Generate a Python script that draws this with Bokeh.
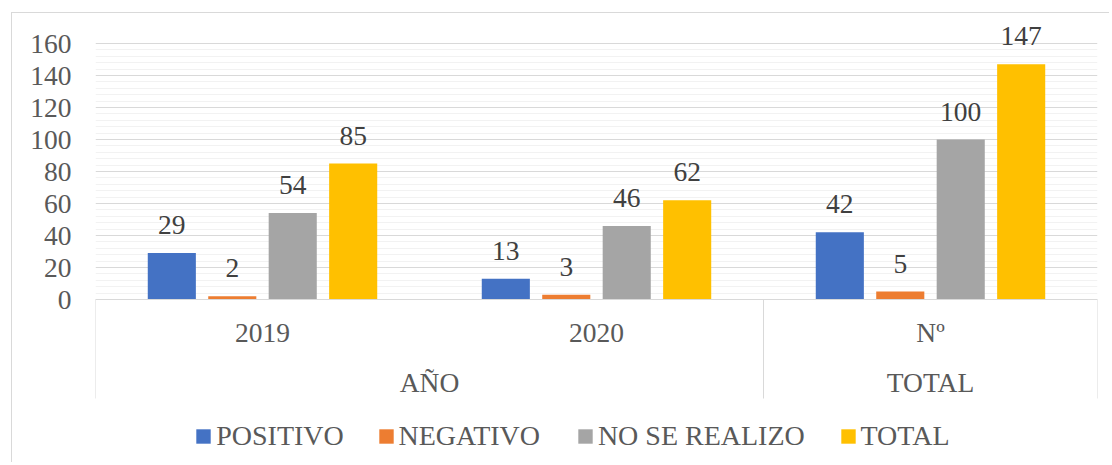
from bokeh.plotting import figure
from bokeh.models import FactorRange, ColumnDataSource, FixedTicker, Range1d, Legend
from bokeh.transform import dodge
from bokeh.core.properties import value
from bokeh.embed import file_html
from bokeh.resources import INLINE

# ---- data ----
groups = ["AÑO", "AÑO", "TOTAL"]
categories = ["2019", "2020", "Nº"]
series_names = ["POSITIVO", "NEGATIVO", "NO SE REALIZO", "TOTAL"]
positivo = [29, 13, 42]
negativo = [2, 3, 5]
no_se_realizo = [54, 46, 100]
total = [85, 62, 147]
y_ticks = [0, 20, 40, 60, 80, 100, 120, 140, 160]

FONT = "Liberation Serif"
FS = "27.5px"
colors = ["#4472C4", "#ED7D31", "#A5A5A5", "#FFC000"]

factors = list(zip(groups, categories))
x_range = FactorRange(*factors, factor_padding=0, group_padding=0, range_padding=0)

# layout (screen px)
PX_PER_UNIT = 1.6
ZERO_Y = 298          # pixel row of value 0
TOP160_Y = 42
FRAME_TOP = 13
FRAME_BOTTOM = 461
FRAME_LEFT = 94
BOX_BOTTOM = 397
y_top = 160 + (TOP160_Y - FRAME_TOP) / PX_PER_UNIT
y_bottom = -(FRAME_BOTTOM - ZERO_Y) / PX_PER_UNIT
box_bottom = -(BOX_BOTTOM - ZERO_Y) / PX_PER_UNIT

p = figure(x_range=x_range, y_range=Range1d(y_bottom, y_top),
           frame_width=1002, frame_height=FRAME_BOTTOM - FRAME_TOP,
           min_border_left=83, min_border_right=12, min_border_top=1, min_border_bottom=0,
           output_backend="svg", toolbar_location=None, x_axis_location=None,
           margin=(12, 0, 0, 11),
           styles={"border-left": "1px solid #d9d9d9", "border-top": "1px solid #d9d9d9"})
p.outline_line_color = None
p.background_fill_color = "white"
p.border_fill_color = "white"

# y axis
minor = [t for t in range(0, 161, 4) if t % 20 != 0]
p.yaxis.ticker = FixedTicker(ticks=y_ticks, minor_ticks=minor)
p.yaxis.axis_line_color = None
p.yaxis.major_tick_line_color = None
p.yaxis.minor_tick_line_color = None
p.yaxis.major_tick_out = 0
p.yaxis.major_tick_in = 0
p.yaxis.minor_tick_out = 0
p.yaxis.major_label_standoff = 24
p.yaxis.major_label_text_font = FONT
p.yaxis.major_label_text_font_size = FS
p.yaxis.major_label_text_color = "#595959"

p.xgrid.grid_line_color = None
p.ygrid.grid_line_color = "#d9d9d9"
p.ygrid.grid_line_width = 1
p.ygrid.minor_grid_line_color = "#f2f2f2"
p.ygrid.minor_grid_line_width = 1

src = ColumnDataSource(dict(
    x=factors,
    s0=positivo, s1=negativo, s2=no_se_realizo, s3=total,
    t0=[str(v) for v in positivo], t1=[str(v) for v in negativo],
    t2=[str(v) for v in no_se_realizo], t3=[str(v) for v in total],
))

STEP = 0.181
BAR_W = 0.144
renderers = []
for i, name in enumerate(series_names):
    off = (i - 1.5) * STEP
    r = p.vbar(x=dodge("x", off, range=x_range), top=f"s{i}", width=BAR_W, bottom=0,
               source=src, fill_color=colors[i], line_color=None)
    renderers.append(r)
    p.text(x=dodge("x", off, range=x_range), y=f"s{i}", text=f"t{i}", source=src,
           text_align="center", text_baseline="alphabetic", y_offset=-28,
           text_font=value(FONT), text_font_size=FS, text_color="#404040")

# category axis box (separators)
sep_x = [(groups[0], categories[0], -0.5), (groups[2], categories[2], -0.5), (groups[2], categories[2], 0.5)]
p.segment(x0=sep_x, x1=sep_x, y0=[0] * 3, y1=[box_bottom] * 3, line_color="#d9d9d9", line_width=1)
p.segment(x0=[sep_x[0]], x1=[sep_x[2]], y0=[0], y1=[0], line_color="#d9d9d9", line_width=1)

# category labels
p.text(x=factors, y=[-(331 - ZERO_Y) / PX_PER_UNIT] * 3, text=categories,
       text_align="center", text_baseline="alphabetic",
       text_font=value(FONT), text_font_size=FS, text_color="#595959")
top_groups = ["AÑO", "TOTAL"]
p.text(x=top_groups, y=[-(381 - ZERO_Y) / PX_PER_UNIT] * 2, text=top_groups,
       text_align="center", text_baseline="alphabetic",
       text_font=value(FONT), text_font_size=FS, text_color="#595959")

# legend: one entry per Legend, placed like the original
legend_square_left = [195, 377.3, 576.7, 839.3]
for name, r, sq in zip(series_names, renderers, legend_square_left):
    lg = Legend(items=[(name, [r])], orientation="horizontal",
                location=(sq - 1.8 - FRAME_LEFT, FRAME_BOTTOM - 451),
                glyph_width=18, glyph_height=18, label_standoff=4, spacing=0, padding=0, margin=0,
                border_line_color=None, background_fill_alpha=0,
                label_text_font=FONT, label_text_font_size="28px", label_text_color="#595959")
    p.add_layout(lg, "center")

open("out.html", "w").write(file_html(p, INLINE))
